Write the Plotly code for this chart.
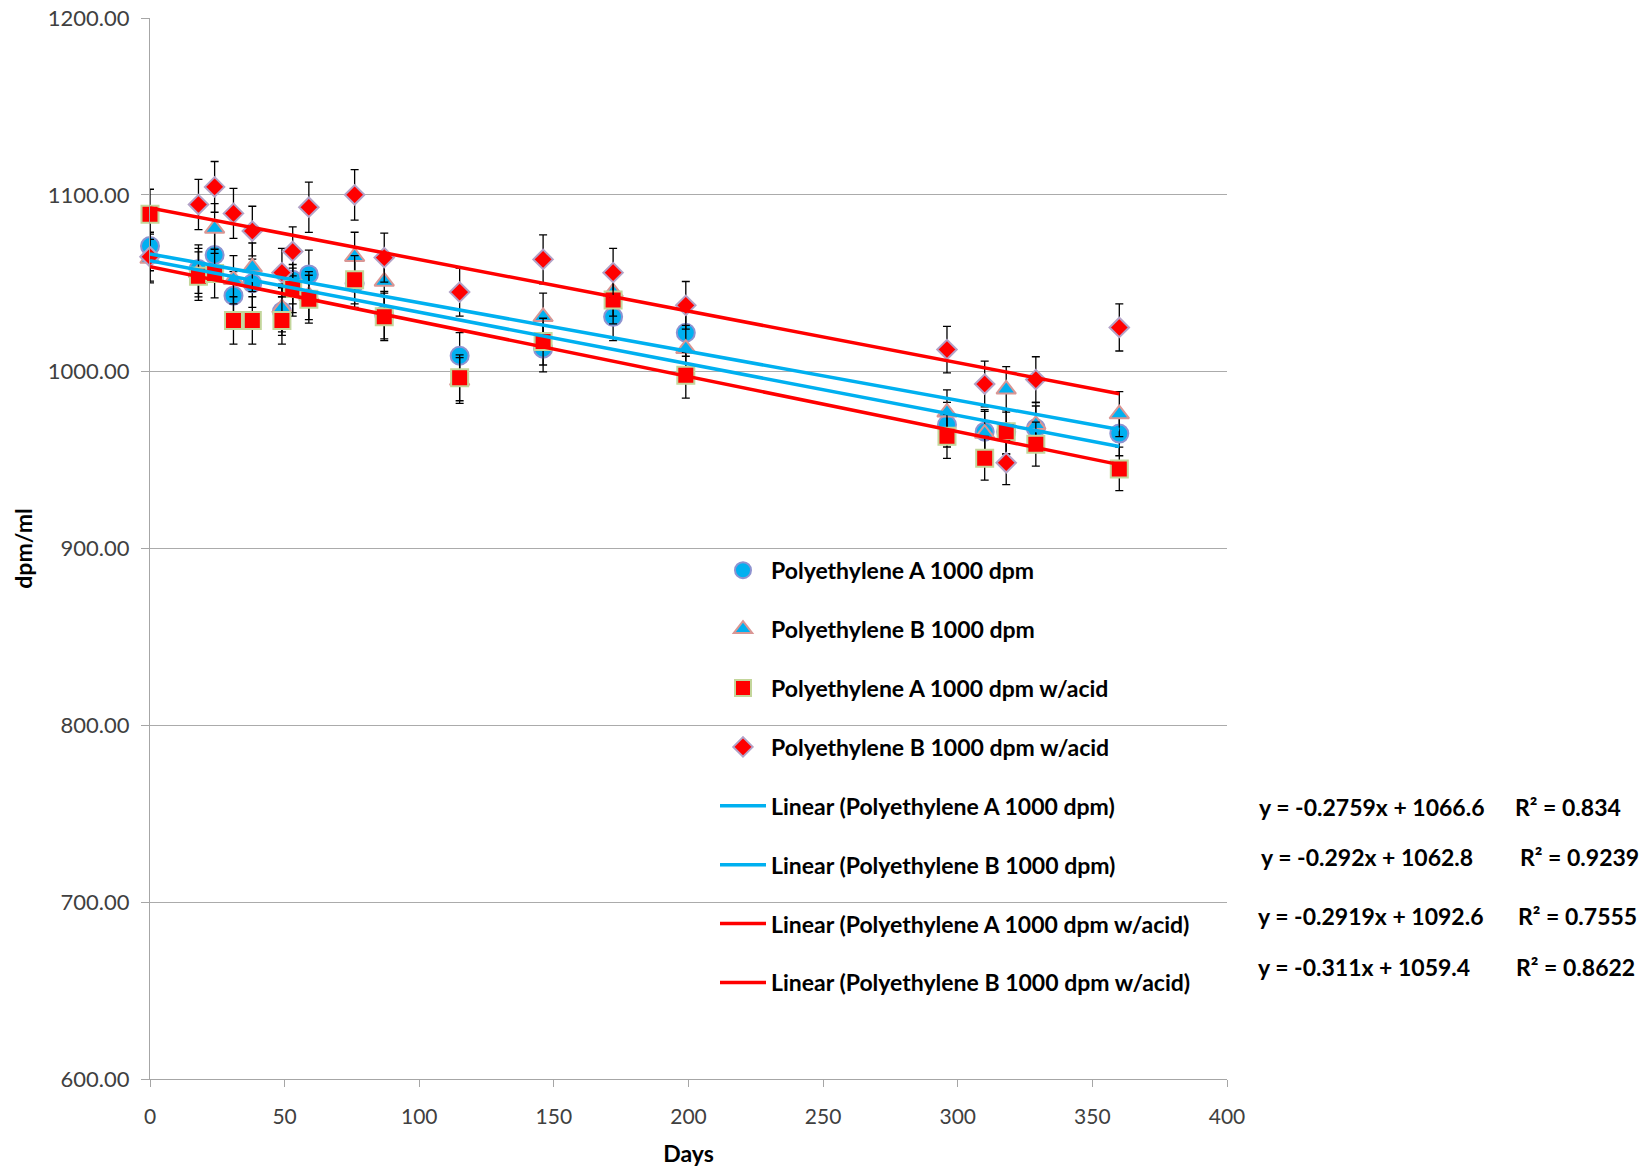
import plotly.graph_objects as go

# ---------------- data ----------------
days = [0, 18, 24, 31, 38, 49, 53, 59, 76, 87, 115, 146, 172, 199, 296, 310, 318, 329, 360]

pa_1000 = [1071, 1058, 1066, 1043, 1050, 1034, 1052, 1055, 1050, 1032, 1009, 1013, 1031, 1022, 970, 966, 966, 968, 965]
pb_1000 = [1064, 1056, 1081, 1052, 1059, 1036, 1045, 1043, 1065, 1051, 995, 1031, 1045, 1013, 977, 965, 990, 970, 976]
pa_acid = [1089, 1054, 1055.5, 1029, 1029, 1029, 1047, 1041, 1052, 1031, 996.5, 1017, 1040.5, 998, 963.5, 951, 966, 959, 945]
pb_acid = [1065, 1094.5, 1104.5, 1089.5, 1079.5, 1056, 1068, 1093, 1100, 1064.5, 1045, 1063.5, 1056, 1037.5, 1012.5, 993, 948.5, 995.5, 1025]

series_names = ["Polyethylene A 1000 dpm", "Polyethylene B 1000 dpm",
                "Polyethylene A 1000 dpm w/acid", "Polyethylene B 1000 dpm w/acid"]
trend_names = ["Linear (Polyethylene A 1000 dpm)", "Linear (Polyethylene B 1000 dpm)",
               "Linear (Polyethylene A 1000 dpm w/acid)", "Linear (Polyethylene B 1000 dpm w/acid)"]
trend_slopes = [-0.2759, -0.292, -0.2919, -0.311]
trend_intercepts = [1066.6, 1062.8, 1092.6, 1059.4]
trend_x = [0, 360]
eq_labels = ["y = -0.2759x + 1066.6", "y = -0.292x + 1062.8",
             "y = -0.2919x + 1092.6", "y = -0.311x + 1059.4"]
r2_labels = ["R² = 0.834", "R² = 0.9239", "R² = 0.7555", "R² = 0.8622"]
error_percent = 1.3

y_tickvals = [600, 700, 800, 900, 1000, 1100, 1200]
x_tickvals = [0, 50, 100, 150, 200, 250, 300, 350, 400]

# ---------------- styles ----------------
CYAN = "#00B0F0"
RED = "#FF0000"
FONT = "Lato"
W, H = 1652, 1167
L, R, T, B = 150, 425, 18, 87.5

marker_styles = [
    dict(symbol="circle", size=18, color=CYAN, line=dict(color="#8E93D0", width=2)),
    dict(symbol="triangle-up", size=17, color=CYAN, line=dict(color="#D99694", width=2)),
    dict(symbol="square", size=17, color=RED, line=dict(color="#C3D69B", width=2)),
    dict(symbol="diamond", size=15, color=RED, line=dict(color="#B3A2C7", width=2)),
]
trend_colors = [CYAN, CYAN, RED, RED]

fig = go.Figure()
all_series = [pa_1000, pb_1000, pa_acid, pb_acid]
for i, vals in enumerate(all_series):
    fig.add_trace(go.Scatter(
        x=days, y=vals, mode="markers", name=series_names[i],
        legendgroup=f"g{i}",
        marker=marker_styles[i],
        error_y=dict(type="percent", value=error_percent, color="black", thickness=1.3, width=4),
        cliponaxis=False,
    ))

for i in range(4):
    ys = [trend_intercepts[i] + trend_slopes[i] * x for x in trend_x]
    fig.add_trace(go.Scatter(
        x=trend_x, y=ys, mode="lines", name=trend_names[i],
        legendgroup=f"t{i}",
        line=dict(color=trend_colors[i], width=3.5),
        cliponaxis=False,
    ))

def px_to_paper_x(px):
    return (px - L) / (W - L - R)

def px_to_paper_y(py):
    return (H - B - py) / (H - T - B)

eq_rows_y = [807, 857, 916, 967]
eq_x = [1257, 1259, 1256, 1256]
r2_x = [1513, 1518, 1516, 1514]
for i in range(4):
    fig.add_annotation(x=px_to_paper_x(eq_x[i]), y=px_to_paper_y(eq_rows_y[i]),
                       xref="paper", yref="paper", text=eq_labels[i], showarrow=False,
                       xanchor="left", yanchor="middle",
                       font=dict(family=FONT, size=23, color="black", weight="bold"))
    fig.add_annotation(x=px_to_paper_x(r2_x[i]), y=px_to_paper_y(eq_rows_y[i]),
                       xref="paper", yref="paper", text=r2_labels[i], showarrow=False,
                       xanchor="left", yanchor="middle",
                       font=dict(family=FONT, size=23, color="black", weight="bold"))

fig.update_layout(
    width=W, height=H, autosize=False,
    margin=dict(l=L, r=R, t=T, b=B, pad=0, autoexpand=False),
    plot_bgcolor="white", paper_bgcolor="white",
    showlegend=True,
    legend=dict(
        x=px_to_paper_x(715), y=px_to_paper_y(549), xanchor="left", yanchor="top",
        bgcolor="rgba(0,0,0,0)", borderwidth=0,
        font=dict(family=FONT, size=23, color="black", weight="bold"),
        tracegroupgap=26, itemwidth=46, itemsizing="trace",
        traceorder="grouped",
    ),
    xaxis=dict(
        range=[0, 400], tickvals=x_tickvals, showgrid=False, zeroline=False,
        showline=True, linecolor="#A6A6A6", linewidth=1.2,
        ticks="outside", ticklen=7, tickcolor="#A6A6A6", tickwidth=1,
        tickfont=dict(family=FONT, size=21, color="#404040"),
        ticklabelstandoff=12, automargin=False, ticklabeloverflow="allow",
        title=dict(text="Days", font=dict(family=FONT, size=23, color="black", weight="bold"), standoff=23),
    ),
    yaxis=dict(
        range=[600, 1200], tickvals=y_tickvals, tickformat=".2f",
        showgrid=True, gridcolor="#ABABAB", gridwidth=1, zeroline=False,
        showline=True, linecolor="#A6A6A6", linewidth=1.2,
        ticks="outside", ticklen=8, tickcolor="#A6A6A6", tickwidth=1,
        tickfont=dict(family=FONT, size=22, color="#404040"),
        ticklabelstandoff=7, automargin=False, ticklabeloverflow="allow",
        title=dict(text="dpm/ml", font=dict(family=FONT, size=23, color="black", weight="bold"), standoff=8),
    ),
)

fig.write_html("out.html",
               config={"displayModeBar": False},
               post_script="document.body.style.margin='0';document.body.style.overflow='hidden';")
